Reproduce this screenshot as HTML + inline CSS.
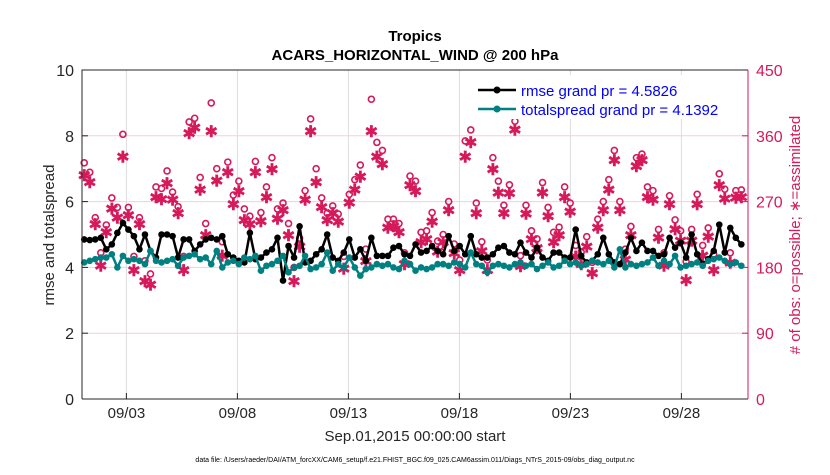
<!DOCTYPE html>
<html><head><meta charset="utf-8"><style>
body{margin:0;background:#fff;font-family:"Liberation Sans",sans-serif}
svg text{font-family:"Liberation Sans",sans-serif}
</style></head><body>
<svg id="chart" width="830" height="470" viewBox="0 0 830 470">
<rect width="830" height="470" fill="#fff"/>
<g id="grid"></g>
<g id="marks"></g>
<g id="axes"></g>
<text x="415" y="41" text-anchor="middle" font-size="15" font-weight="bold">Tropics</text>
<text x="415" y="60" text-anchor="middle" font-size="15" font-weight="bold">ACARS_HORIZONTAL_WIND @ 200 hPa</text>
<text transform="translate(54,235) rotate(-90)" text-anchor="middle" font-size="15" fill="#262626">rmse and totalspread</text>
<text transform="translate(800,235) rotate(-90)" text-anchor="middle" font-size="15" fill="#d6195a"># of obs: o=possible; ∗=assimilated</text>
<text x="415" y="441" text-anchor="middle" font-size="15" fill="#262626">Sep.01,2015 00:00:00 start</text>
<text x="415" y="462" text-anchor="middle" font-size="7" fill="#000">data file: /Users/raeder/DAI/ATM_forcXX/CAM6_setup/f.e21.FHIST_BGC.f09_025.CAM6assim.011/Diags_NTrS_2015-09/obs_diag_output.nc</text>
<g id="legend">
<rect x="470" y="75" width="275" height="44" fill="#fff"/>
<line x1="478" y1="90" x2="516" y2="90" stroke="#000" stroke-width="2.5"/>
<circle cx="497" cy="90" r="3.5" fill="#000"/>
<text x="521" y="96" font-size="15" fill="#0000ff">rmse grand pr = 4.5826</text>
<line x1="478" y1="109" x2="516" y2="109" stroke="#008080" stroke-width="2.5"/>
<circle cx="497" cy="109" r="3.5" fill="#008080"/>
<text x="521" y="115" font-size="15" fill="#0000ff">totalspread grand pr = 4.1392</text>
</g>
</svg>
<script>
const tickDays=[2,7,12,17,22,27];
const tickLabels=["09/03","09/08","09/13","09/18","09/23","09/28"];
const yTicks=[0,2,4,6,8,10];
const rTicks=[0,90,180,270,360,450];
const rmse=[4.85,4.83,4.85,4.9,4.55,4.7,5.05,5.35,5.15,4.95,4.55,5.0,4.5,4.3,5.0,5.0,4.95,4.3,4.85,4.85,4.5,4.7,4.85,4.9,4.85,4.95,4.4,4.3,4.2,4.15,5.05,4.25,4.3,4.45,4.55,4.9,3.6,4.65,4.3,5.25,4.15,4.2,4.4,4.55,5.0,4.3,4.2,4.45,4.85,4.3,4.55,4.2,4.9,4.35,4.35,4.35,4.6,4.65,4.4,4.35,4.7,4.45,4.5,4.65,4.5,4.4,4.95,4.5,4.65,4.4,4.95,4.4,4.3,4.3,4.4,4.6,4.65,4.45,4.4,4.75,4.45,4.3,4.6,4.3,4.2,4.45,4.45,4.3,4.3,5.15,4.35,4.15,4.2,4.4,4.9,4.4,4.15,4.1,4.45,4.9,4.5,4.75,4.5,4.5,4.35,4.4,4.9,4.6,4.75,4.3,5.0,4.4,4.1,4.25,4.5,5.3,4.45,5.2,4.9,4.7];
const spread=[4.15,4.2,4.25,4.3,4.3,4.4,4.0,4.35,4.2,4.25,4.2,4.1,4.5,4.2,4.15,4.2,4.25,4.05,4.3,4.35,4.4,4.25,4.3,4.1,4.5,4.0,4.15,4.2,4.1,4.3,4.25,4.35,3.9,4.05,4.1,4.2,4.35,3.85,4.0,4.05,4.35,3.95,4.0,4.1,4.45,3.9,4.1,4.0,4.3,4.0,3.75,3.95,4.0,4.1,4.05,4.1,4.0,3.95,4.2,4.1,3.9,4.0,3.95,4.0,4.1,4.1,4.05,4.15,4.1,4.0,4.45,4.1,4.05,3.85,4.05,4.1,4.05,4.0,4.1,4.15,4.05,4.1,3.95,4.05,4.15,4.0,4.05,4.2,4.1,4.15,4.05,4.1,4.2,4.15,4.1,4.2,4.0,4.55,4.0,4.1,4.05,4.1,4.15,4.3,4.05,4.2,4.1,4.35,4.0,4.05,4.1,4.15,4.05,4.2,4.25,4.3,4.2,4.1,4.15,4.05];
const possible=[323,310,248,200,238,275,262,362,262,195,248,189,171,290,288,312,283,263,195,379,384,303,240,405,315,215,324,279,298,260,250,325,255,290,330,260,268,240,180,220,285,383,315,275,254,264,253,195,280,300,320,205,410,351,340,246,246,240,200,305,298,228,230,255,216,225,270,212,190,353,368,268,215,190,330,298,265,293,380,196,265,230,219,296,262,228,235,290,268,210,201,222,187,246,270,300,340,270,205,236,330,335,290,285,232,200,278,245,230,188,232,280,210,234,198,308,287,200,285,286];
const assimilated=[310,300,243,186,232,264,252,335,255,180,243,165,160,280,277,299,276,258,180,367,375,290,228,370,302,200,314,270,288,248,243,314,247,280,318,250,262,228,165,212,276,370,300,266,248,258,246,182,272,290,308,192,370,335,325,238,240,232,188,296,288,218,222,246,205,218,262,203,180,335,355,258,206,180,318,286,258,285,372,185,257,222,210,286,254,218,228,280,260,198,188,212,176,238,262,290,330,262,194,228,322,330,280,276,224,186,270,236,220,166,220,270,200,226,180,296,278,190,279,280];

const NS="http://www.w3.org/2000/svg";
const L=82,R=748,T=70,B=399;
const xS=d=>L+(d)*(R-L)/30;
const yS=v=>B-v*(B-T)/10;
const rS=v=>B-v*(B-T)/450;
const tOf=(i,n)=>0.1+i*29.6/(n-1);
function mk(tag,attrs,parent){const e=document.createElementNS(NS,tag);for(const k in attrs)e.setAttribute(k,attrs[k]);parent.appendChild(e);return e;}
const grid=document.getElementById('grid'),marks=document.getElementById('marks'),axes=document.getElementById('axes');
yTicks.slice(1,-1).forEach(v=>{const g=mk('line',{x1:L,x2:R,y1:yS(v),y2:yS(v),stroke:'#f0d0dc','stroke-width':1},grid);

});
tickDays.forEach((d,i)=>{const g=mk('line',{x1:xS(d),x2:xS(d),y1:T,y2:B,stroke:'#dcdcdc','stroke-width':1},grid);


const t=mk('text',{x:xS(d),y:418,'text-anchor':'middle','font-size':15,fill:'#262626'},axes);t.textContent=tickLabels[i];


mk('line',{x1:xS(d),x2:xS(d),y1:B,y2:B-6,stroke:'#262626'},axes);});
yTicks.forEach(v=>{const t=mk('text',{x:L-8,y:yS(v)+6,'text-anchor':'end','font-size':16,fill:'#262626'},axes);t.textContent=v;


mk('line',{x1:L,x2:L+6,y1:yS(v),y2:yS(v),stroke:'#262626'},axes);});
rTicks.forEach(v=>{const t=mk('text',{x:R+8,y:rS(v)+6,'font-size':16,fill:'#d6195a'},axes);t.textContent=v;


mk('line',{x1:R-6,x2:R,y1:rS(v),y2:rS(v),stroke:'#d6195a'},axes);});
mk('path',{d:`M${L},${B}V${T}H${R}`,fill:'none',stroke:'#262626','stroke-width':1},axes);
mk('line',{x1:L,x2:R,y1:B,y2:B,stroke:'#262626'},axes);
mk('line',{x1:R,x2:R,y1:T,y2:B,stroke:'#d6195a'},axes);
possible.forEach((v,i)=>{const c=mk('circle',{cx:xS(tOf(i,possible.length)),cy:rS(v),r:3,fill:'none',stroke:'#d6195a','stroke-width':1.6},marks);

});
assimilated.forEach((v,i)=>{const tx=mk('text',{x:xS(tOf(i,assimilated.length)),y:rS(v)+8,'text-anchor':'middle','font-size':17,'font-weight':'bold',fill:'#d6195a',stroke:'#d6195a','stroke-width':0.8},marks);tx.textContent='∗';

});
function series(arr,color,name){
const pts=arr.map((v,i)=>xS(tOf(i,arr.length)).toFixed(1)+','+yS(v).toFixed(1)).join(' ');
const p=mk('polyline',{points:pts,fill:'none',stroke:color,'stroke-width':2.5,'stroke-linejoin':'round'},marks);


arr.forEach((v,i)=>{const c=mk('circle',{cx:xS(tOf(i,arr.length)),cy:yS(v),r:3.3,fill:color},marks);

});}
series(rmse,'#000','rmse');
series(spread,'#008080','totalspread');
document.getElementById('chart').appendChild(document.getElementById('legend'));
</script>
</body></html>
